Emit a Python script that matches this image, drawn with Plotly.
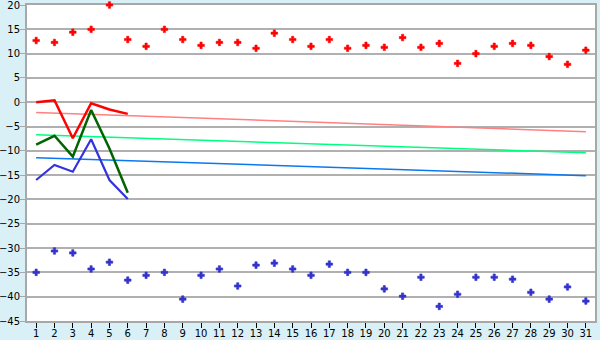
import plotly.graph_objects as go

days = list(range(1, 32))
red_points = [12.7, 12.3, 14.4, 15.0, 20.0, 12.9, 11.5, 15.0, 12.9, 11.7,
              12.3, 12.3, 11.1, 14.2, 12.9, 11.5, 12.9, 11.1, 11.7, 11.3,
              13.3, 11.3, 12.1, 8.0, 10.0, 11.5, 12.1, 11.7, 9.4, 7.8, 10.7]
blue_points = [-35.0, -30.6, -31.0, -34.3, -32.9, -36.6, -35.6, -35.0, -40.5, -35.6,
               -34.3, -37.8, -33.5, -33.1, -34.3, -35.6, -33.3, -35.0, -35.0, -38.4,
               -39.9, -36.0, -42.0, -39.5, -36.0, -36.0, -36.4, -39.1, -40.5, -38.0, -40.9]

line_days = [1, 2, 3, 4, 5, 6]
red_line = [0.0, 0.4, -7.4, -0.2, -1.5, -2.4]
green_line = [-8.7, -6.9, -11.2, -1.6, -9.5, -18.6]
blue_line = [-16.0, -12.9, -14.3, -7.6, -16.0, -19.9]

trend_days = [1, 31]
pink_trend = [-2.1, -6.05]
green_trend = [-6.7, -10.4]
blue_trend = [-11.4, -15.1]

y_ticks = list(range(-45, 21, 5))

fig = go.Figure()
fig.add_trace(go.Scatter(x=trend_days, y=pink_trend, mode="lines",
                         line=dict(color="#FF8080", width=1.5)))
fig.add_trace(go.Scatter(x=trend_days, y=green_trend, mode="lines",
                         line=dict(color="#00FF80", width=1.5)))
fig.add_trace(go.Scatter(x=trend_days, y=blue_trend, mode="lines",
                         line=dict(color="#0A78F0", width=1.5)))
fig.add_trace(go.Scatter(x=line_days, y=red_line, mode="lines",
                         line=dict(color="#FF0000", width=2.5)))
fig.add_trace(go.Scatter(x=line_days, y=green_line, mode="lines",
                         line=dict(color="#006400", width=2.5)))
fig.add_trace(go.Scatter(x=line_days, y=blue_line, mode="lines",
                         line=dict(color="#3333DD", width=2.2)))
fig.add_trace(go.Scatter(x=days, y=red_points, mode="markers", cliponaxis=False,
                         marker=dict(symbol="cross", size=5.5, color="#FF0000",
                                     line=dict(width=0.6, color="#FF0000"))))
fig.add_trace(go.Scatter(x=days, y=blue_points, mode="markers", cliponaxis=False,
                         marker=dict(symbol="cross", size=5.5, color="#3333CC",
                                     line=dict(width=0.6, color="#3333CC"))))

fig.update_layout(
    width=600, height=340,
    margin=dict(l=27, r=5, t=5, b=19),
    paper_bgcolor="#DAF0F7",
    plot_bgcolor="#FFFFFF",
    showlegend=False,
    font=dict(family="DejaVu Sans", size=10, color="#000000"),
)
fig.update_xaxes(
    range=[0.5, 31.5], tickvals=days, ticktext=[str(d) for d in days],
    showgrid=False, zeroline=False, automargin=False, layer="below traces",
    showline=True, linecolor="#A8A8A8", linewidth=2, mirror=True,
    ticks="outside", ticklen=5, tickcolor="#000000", tickwidth=1,
    ticklabeloverflow="allow", ticklabelstandoff=-3,
)
fig.update_yaxes(
    range=[-45, 20], tickvals=y_ticks, automargin=False, layer="below traces",
    showgrid=True, gridcolor="#B0B0B0", gridwidth=1.5, zeroline=False,
    showline=True, linecolor="#A8A8A8", linewidth=2, mirror=True,
    ticks="outside", ticklen=5, tickcolor="#A8A8A8", tickwidth=1,
    ticklabeloverflow="allow", ticklabelstandoff=-2,
)

fig.write_html("out.html")
